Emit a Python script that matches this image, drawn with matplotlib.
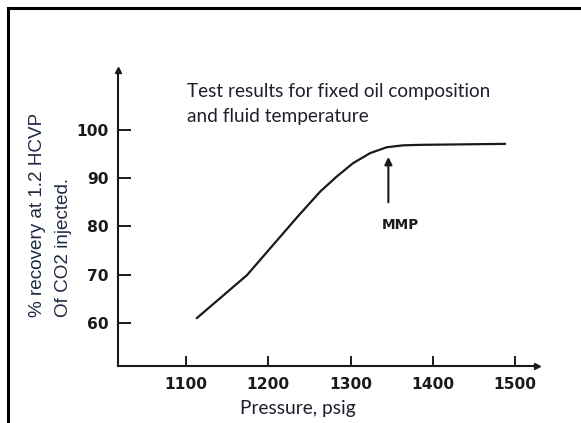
import matplotlib
matplotlib.use("Agg")
import matplotlib.pyplot as plt
from matplotlib.lines import Line2D

# ---------------------------------------------------------------------------
# Data
# ---------------------------------------------------------------------------
pressure = [1113, 1174, 1235, 1263, 1283, 1303, 1324, 1344, 1364, 1385, 1488]
recovery = [61.0, 69.9, 81.9, 87.2, 90.3, 93.1, 95.2, 96.4, 96.8, 96.9, 97.1]

x_ticks = [1100, 1200, 1300, 1400, 1500]
y_ticks = [60, 70, 80, 90, 100]

mmp_pressure = 1346
mmp_arrow = (85.0, 94.4)   # arrow tail, arrow tip (recovery units)

title_lines = "Test results for fixed oil composition\nand fluid temperature"
ylabel_lines = "% recovery at 1.2 HCVP\nOf CO2 injected."
xlabel = "Pressure, psig"

W, H = 581, 423
fig = plt.figure(figsize=(W / 100, H / 100), dpi=100)
fig.patch.set_facecolor("white")

# frame of the original screenshot (left and top edges only)
fig.add_artist(Line2D([8 / W, 8 / W], [0, 1 - 8 / H], color="black", lw=2.2))
fig.add_artist(Line2D([8 / W, 1], [1 - 8 / H, 1 - 8 / H], color="black", lw=2.2))

ax = fig.add_axes([118 / W, 1 - 366 / H, 419 / W, 296 / H])
ax.set_xlim(1017.3, 1526.7)
ax.set_ylim(51.1, 112.4)

ax.plot(pressure, recovery, color="#1a1a1a", lw=1.6, solid_capstyle="round")

for side in ("top", "right"):
    ax.spines[side].set_visible(False)
for side in ("left", "bottom"):
    ax.spines[side].set_linewidth(1.5)
    ax.spines[side].set_color("#1a1a1a")

# arrow heads on the axes
ax.plot(1, 0, marker=">", ms=5, color="#1a1a1a", transform=ax.transAxes, clip_on=False)
ax.plot(0, 1, marker="^", ms=5, color="#1a1a1a", transform=ax.transAxes, clip_on=False)

ax.set_xticks(x_ticks)
ax.set_yticks(y_ticks)
ax.tick_params(axis="x", direction="in", length=7, width=1.4, pad=8, colors="#1a1a1a")
ax.tick_params(axis="y", direction="in", length=9, width=1.4, pad=7, colors="#1a1a1a")
for lab in ax.get_xticklabels() + ax.get_yticklabels():
    lab.set_fontfamily("DejaVu Sans")
    lab.set_fontweight("bold")
    lab.set_fontsize(11.2)

# MMP marker
ax.annotate("", xy=(mmp_pressure, mmp_arrow[1]), xytext=(mmp_pressure, mmp_arrow[0]),
            arrowprops=dict(arrowstyle="-|>", color="#1a1a1a", lw=1.5,
                            mutation_scale=11, shrinkA=0, shrinkB=0))
ax.text(1360, 80.3, "MMP", ha="center", va="center", fontsize=9.8,
        fontweight="bold", family="DejaVu Sans", color="#1a1a1a")

# texts in the original's Calibri-like face
fig.text(187 / W, 1 - 83 / H, title_lines, ha="left", va="top", fontsize=13.7,
         family="Lato", color="#1f1f2e", linespacing=1.55)
fig.text(298 / W, 1 - 408 / H, xlabel, ha="center", va="center", fontsize=13.8,
         family="Lato", color="#1f1f2e")
fig.text(29 / W, 1 - 317 / H, ylabel_lines, rotation=90, ha="left", va="bottom",
         multialignment="left", fontsize=13.6, family="Liberation Sans",
         color="#1f2a44", linespacing=1.7)

fig.savefig("out.png", dpi=100)
